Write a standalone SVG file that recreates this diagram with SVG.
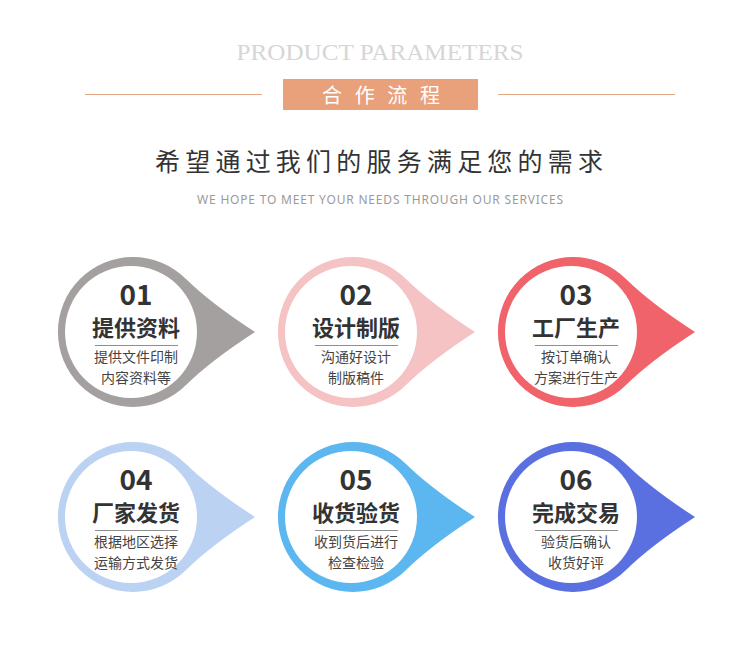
<svg xmlns="http://www.w3.org/2000/svg" width="750" height="656" viewBox="0 0 750 656">
<defs>
<style>
.num{font-family:"Noto Sans CJK SC","Noto Sans",sans-serif;font-weight:bold;font-size:28px;fill:#333;text-anchor:middle}
.ttl{font-family:"Noto Sans CJK SC",sans-serif;font-weight:bold;font-size:22px;fill:#333;text-anchor:middle}
.sub{font-family:"Noto Sans CJK SC",sans-serif;font-size:14px;fill:#444;text-anchor:middle}
.sep{stroke:#8f8f8f;stroke-width:1}
</style>
<path id="drop" d="M 53 -53 Q 78 -28.5 122 0 Q 78 28.5 53 53 A 75 75 0 1 1 53 -53 Z"/>
</defs>
<rect width="750" height="656" fill="#ffffff"/>
<g id="header">
<text x="380" y="59.5" font-family="Liberation Serif,serif" font-size="24" fill="#d6d6d6" text-anchor="middle" textLength="287" lengthAdjust="spacingAndGlyphs">PRODUCT PARAMETERS</text>
<line x1="85" y1="94.5" x2="262" y2="94.5" stroke="#e3a883" stroke-width="1.2"/>
<line x1="498" y1="94.5" x2="675" y2="94.5" stroke="#e3a883" stroke-width="1.2"/>
<rect x="283" y="79" width="195" height="31" fill="#e9a17b"/>
<text x="322" y="102.5" font-family="Noto Sans CJK SC,sans-serif" font-size="20" fill="#ffffff" textLength="118" lengthAdjust="spacing">合作流程</text>
<text x="155" y="171" font-family="Noto Sans CJK SC,sans-serif" font-size="25" fill="#333333" textLength="448" lengthAdjust="spacing">希望通过我们的服务满足您的需求</text>
<text x="197" y="204" font-family="Noto Sans,sans-serif" font-size="12" fill="#9a9a9a" textLength="366" lengthAdjust="spacing">WE HOPE TO MEET YOUR NEEDS THROUGH OUR SERVICES</text>
</g>
<g id="connectors"/>
<g id="node1" transform="translate(133,332)">
<use href="#drop" fill="#a3a09f"/>
<circle cx="-2" cy="0" r="66" fill="#fff"/>
<text class="num" x="3" y="-27">01</text>
<text class="ttl" x="3" y="4">提供资料</text>
<line class="sep" x1="-38" y1="13.5" x2="45" y2="13.5"/>
<text class="sub" x="3" y="30">提供文件印制</text>
<text class="sub" x="3" y="50.5">内容资料等</text>
</g>
<g id="node2" transform="translate(353,332)">
<use href="#drop" fill="#f5c3c4"/>
<circle cx="-2" cy="0" r="66" fill="#fff"/>
<text class="num" x="3" y="-27">02</text>
<text class="ttl" x="3" y="4">设计制版</text>
<line class="sep" x1="-38" y1="13.5" x2="45" y2="13.5"/>
<text class="sub" x="3" y="30">沟通好设计</text>
<text class="sub" x="3" y="50.5">制版稿件</text>
</g>
<g id="node3" transform="translate(573,332)">
<use href="#drop" fill="#f0636a"/>
<circle cx="-2" cy="0" r="66" fill="#fff"/>
<text class="num" x="3" y="-27">03</text>
<text class="ttl" x="3" y="4">工厂生产</text>
<line class="sep" x1="-38" y1="13.5" x2="45" y2="13.5"/>
<text class="sub" x="3" y="30">按订单确认</text>
<text class="sub" x="3" y="50.5">方案进行生产</text>
</g>
<g id="node4" transform="translate(133,517)">
<use href="#drop" fill="#bcd2f3"/>
<circle cx="-2" cy="0" r="66" fill="#fff"/>
<text class="num" x="3" y="-27">04</text>
<text class="ttl" x="3" y="4">厂家发货</text>
<line class="sep" x1="-38" y1="13.5" x2="45" y2="13.5"/>
<text class="sub" x="3" y="30">根据地区选择</text>
<text class="sub" x="3" y="50.5">运输方式发货</text>
</g>
<g id="node5" transform="translate(353,517)">
<use href="#drop" fill="#5cb6ef"/>
<circle cx="-2" cy="0" r="66" fill="#fff"/>
<text class="num" x="3" y="-27">05</text>
<text class="ttl" x="3" y="4">收货验货</text>
<line class="sep" x1="-38" y1="13.5" x2="45" y2="13.5"/>
<text class="sub" x="3" y="30">收到货后进行</text>
<text class="sub" x="3" y="50.5">检查检验</text>
</g>
<g id="node6" transform="translate(573,517)">
<use href="#drop" fill="#5b70e0"/>
<circle cx="-2" cy="0" r="66" fill="#fff"/>
<text class="num" x="3" y="-27">06</text>
<text class="ttl" x="3" y="4">完成交易</text>
<line class="sep" x1="-38" y1="13.5" x2="45" y2="13.5"/>
<text class="sub" x="3" y="30">验货后确认</text>
<text class="sub" x="3" y="50.5">收货好评</text>
</g>
</svg>
